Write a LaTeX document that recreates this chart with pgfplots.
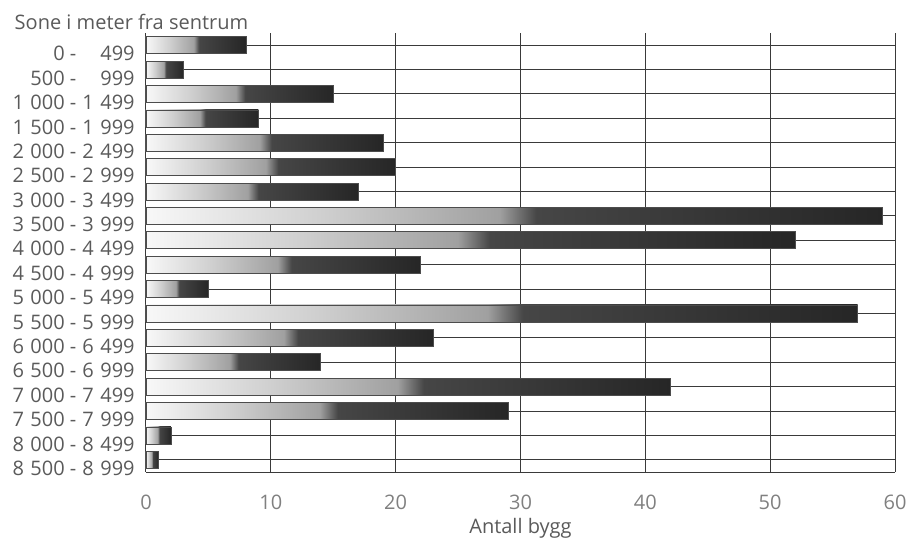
\documentclass[border=0pt]{standalone}
\usepackage{pgfplots}
\pgfplotsset{compat=1.18}
\usepackage{fontspec}
\setmainfont{Open Sans}
\definecolor{txt}{HTML}{5a5a5a}
\definecolor{tickc}{HTML}{808080}
\definecolor{gridc}{HTML}{3a3a3a}
\definecolor{c0}{HTML}{F8F8F8}
\definecolor{c1}{HTML}{CFCFCF}
\definecolor{c2}{HTML}{A0A0A0}
\definecolor{c3}{HTML}{464646}
\definecolor{c4}{HTML}{262626}
\pgfdeclarehorizontalshading{barshade}{100bp}{color(0bp)=(c0); color(25bp)=(c0); color(37bp)=(c1); color(49bp)=(c2); color(51.5bp)=(c3); color(75bp)=(c4); color(100bp)=(c4)}
\newcommand\ts{\hspace{0.32em}}
\newcommand\lab[2]{\makebox[2.65em][r]{#1} - \makebox[2.65em][r]{#2}}
\begin{document}
\begin{tikzpicture}
\begin{axis}[
  scale only axis, width=561.75pt, height=329.25pt,
  xbar, bar width=12.75pt, bar shift=0pt,
  xmin=0, xmax=60, ymin=-0.5, ymax=17.5, y dir=reverse,
  clip=false,
  xtick={0,10,...,60}, ytick={0,...,17},
  yticklabels={\lab{0}{499},\lab{500}{999},\lab{1\ts000}{1\ts499},\lab{1\ts500}{1\ts999},
    \lab{2\ts000}{2\ts499},\lab{2\ts500}{2\ts999},\lab{3\ts000}{3\ts499},\lab{3\ts500}{3\ts999},
    \lab{4\ts000}{4\ts499},\lab{4\ts500}{4\ts999},\lab{5\ts000}{5\ts499},\lab{5\ts500}{5\ts999},
    \lab{6\ts000}{6\ts499},\lab{6\ts500}{6\ts999},\lab{7\ts000}{7\ts499},\lab{7\ts500}{7\ts999},
    \lab{8\ts000}{8\ts499},\lab{8\ts500}{8\ts999}},
  axis x line*=bottom, axis y line*=left,
  axis line style={-, gridc, line width=0.75pt},
  xmajorgrids, ymajorgrids, grid style={gridc, line width=0.75pt},
  major tick length=0pt,
  /pgf/number format/assume math mode=true,
  tick label style={font=\fontsize{15}{17}\selectfont},
  yticklabel style={txt, yshift=-6.4pt, xshift=-5pt},
  xticklabel style={tickc, yshift=-14pt},
  mybar/.style={xbar, bar width=12.75pt, bar shift=0pt, shading=barshade, draw=black!70, line width=0.5pt},
]
\addplot[mybar] coordinates {(8,0)};
\addplot[mybar] coordinates {(3,1)};
\addplot[mybar] coordinates {(15,2)};
\addplot[mybar] coordinates {(9,3)};
\addplot[mybar] coordinates {(19,4)};
\addplot[mybar] coordinates {(20,5)};
\addplot[mybar] coordinates {(17,6)};
\addplot[mybar] coordinates {(59,7)};
\addplot[mybar] coordinates {(52,8)};
\addplot[mybar] coordinates {(22,9)};
\addplot[mybar] coordinates {(5,10)};
\addplot[mybar] coordinates {(57,11)};
\addplot[mybar] coordinates {(23,12)};
\addplot[mybar] coordinates {(14,13)};
\addplot[mybar] coordinates {(42,14)};
\addplot[mybar] coordinates {(29,15)};
\addplot[mybar] coordinates {(2,16)};
\addplot[mybar] coordinates {(1,17)};
\node[anchor=base west, xshift=-102pt, yshift=3pt, txt, font=\fontsize{15}{17}\selectfont]
  at (axis cs:0,-0.5) {Sone i meter fra sentrum};
\node[anchor=base, yshift=-45.75pt, txt, font=\fontsize{15}{17}\selectfont]
  at (axis cs:30,17.5) {Antall bygg};
\coordinate (sw) at (axis cs:0,17.5);
\coordinate (ne) at (axis cs:60,-0.5);
\end{axis}
\pgfresetboundingbox
\path ([shift={(-109.5pt,-51pt)}]sw) rectangle ([shift={(9pt,24.75pt)}]ne);
\end{tikzpicture}
\end{document}
